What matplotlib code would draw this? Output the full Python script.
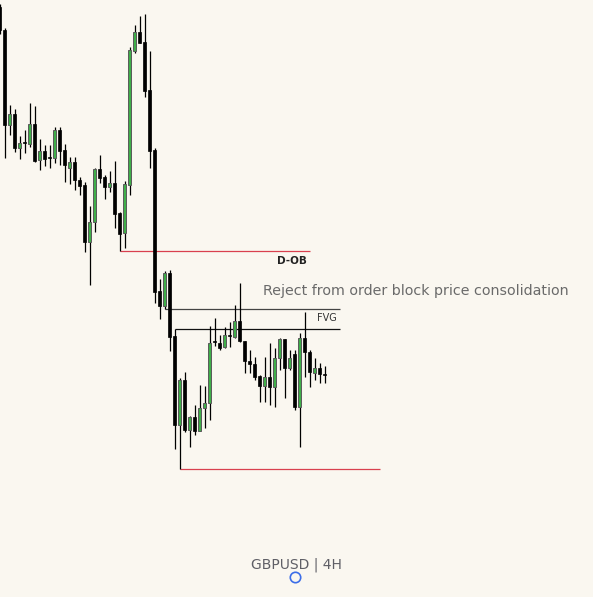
import matplotlib.pyplot as plt

# Velas GBPUSD 4H (abertura, maxima, minima, fecho)
opens = [1.2993, 1.2970, 1.2875, 1.2886, 1.2852, 1.2857, 1.2856, 1.2876, 1.2840, 1.2849,
         1.2842, 1.2842, 1.2870, 1.2850, 1.2832, 1.2838, 1.2820, 1.2815, 1.2758, 1.2778,
         1.2831, 1.2823, 1.2813, 1.2817, 1.2787, 1.2767, 1.2815, 1.2949, 1.2968, 1.2958,
         1.2910, 1.2850, 1.2709, 1.2694, 1.2727, 1.2664, 1.2575, 1.2620, 1.2570, 1.2583,
         1.2569, 1.2592, 1.2597, 1.2658, 1.2657, 1.2653, 1.2664, 1.2663, 1.2679, 1.2659,
         1.2639, 1.2636, 1.2624, 1.2614, 1.2623, 1.2613, 1.2642, 1.2661, 1.2632, 1.2646,
         1.2593, 1.2662, 1.2648, 1.2627, 1.2632, 1.2625]
highs = [1.2996, 1.2972, 1.2895, 1.2891, 1.2864, 1.2870, 1.2897, 1.2894, 1.2861, 1.2855,
         1.2855, 1.2873, 1.2873, 1.2856, 1.2843, 1.2843, 1.2823, 1.2818, 1.2794, 1.2832,
         1.2845, 1.2825, 1.2829, 1.2839, 1.2788, 1.2819, 1.2953, 1.2975, 1.2984, 1.2986,
         1.2949, 1.2852, 1.2721, 1.2729, 1.2730, 1.2671, 1.2622, 1.2628, 1.2584, 1.2595,
         1.2615, 1.2614, 1.2674, 1.2682, 1.2665, 1.2673, 1.2678, 1.2695, 1.2717, 1.2659,
         1.2650, 1.2643, 1.2625, 1.2643, 1.2657, 1.2652, 1.2662, 1.2661, 1.2650, 1.2650,
         1.2667, 1.2688, 1.2650, 1.2642, 1.2637, 1.2634]
lows = [1.2966, 1.2842, 1.2865, 1.2848, 1.2841, 1.2847, 1.2853, 1.2838, 1.2830, 1.2834,
        1.2832, 1.2837, 1.2835, 1.2818, 1.2816, 1.2810, 1.2805, 1.2748, 1.2715, 1.2768,
        1.2817, 1.2801, 1.2808, 1.2772, 1.2749, 1.2752, 1.2805, 1.2947, 1.2957, 1.2903,
        1.2832, 1.2697, 1.2681, 1.2691, 1.2649, 1.2551, 1.2531, 1.2568, 1.2553, 1.2565,
        1.2569, 1.2572, 1.2580, 1.2654, 1.2650, 1.2652, 1.2653, 1.2662, 1.2658, 1.2627,
        1.2627, 1.2620, 1.2598, 1.2598, 1.2595, 1.2593, 1.2630, 1.2602, 1.2630, 1.2590,
        1.2553, 1.2623, 1.2613, 1.2620, 1.2617, 1.2617]
closes = [1.2970, 1.2875, 1.2886, 1.2852, 1.2857, 1.2857, 1.2876, 1.2839, 1.2849, 1.2841,
          1.2842, 1.2870, 1.2849, 1.2835, 1.2838, 1.2820, 1.2814, 1.2758, 1.2778, 1.2831,
          1.2822, 1.2813, 1.2817, 1.2786, 1.2766, 1.2816, 1.2950, 1.2968, 1.2957, 1.2909,
          1.2849, 1.2708, 1.2694, 1.2727, 1.2663, 1.2575, 1.2620, 1.2570, 1.2583, 1.2569,
          1.2592, 1.2597, 1.2657, 1.2658, 1.2652, 1.2665, 1.2664, 1.2679, 1.2659, 1.2639,
          1.2636, 1.2623, 1.2614, 1.2623, 1.2613, 1.2642, 1.2661, 1.2632, 1.2642, 1.2593,
          1.2662, 1.2648, 1.2628, 1.2632, 1.2626, 1.2625]
indices = list(range(-1, len(opens) - 1))

# Niveis marcados (preco, vela inicial, vela final)
niveis_preco = [1.2749, 1.2691, 1.2671, 1.2531]
niveis_inicio = [23, 32, 34, 35]
niveis_fim = [61.1, 67.1, 67.1, 75.1]
niveis_cor = ['#d9404f', '#444444', '#111111', '#d9404f']

fundo = '#faf7f0'
verde = '#3fae49'

fig = plt.figure(figsize=(5.93, 5.97), dpi=100)
fig.patch.set_facecolor(fundo)
ax = fig.add_axes([0, 0, 1, 1])
ax.set_facecolor(fundo)

# Niveis horizontais
for p, a, b, c in zip(niveis_preco, niveis_inicio, niveis_fim, niveis_cor):
    ax.hlines(p, a, b, color=c, lw=0.9, zorder=1)

# Velas
for i, o, h, l, c in zip(indices, opens, highs, lows, closes):
    ax.vlines(i, l, h, color='black', lw=0.9, zorder=2)
    corpo = max(abs(c - o), 0.00012)
    base = min(o, c)
    if c > o:
        ax.bar(i, corpo, bottom=base, width=0.62, color=verde,
               edgecolor='#5a5a5a', linewidth=0.7, zorder=3)
    else:
        ax.bar(i, corpo, bottom=base, width=0.62, color='black',
               edgecolor='black', linewidth=0.5, zorder=3)

# Textos
ax.text(57.5, 1.2739, 'D-OB', fontsize=7.5, fontweight='bold', color='#222222',
        ha='center', va='center')
ax.text(64.5, 1.2682, 'FVG', fontsize=7, color='#333333', ha='center', va='center')
ax.text(51.7, 1.2709, 'Reject from order block price consolidation', fontsize=10.3,
        color='#6a6a6a', ha='left', va='center')

fig.text(296 / 593, 1 - 565 / 597, 'GBPUSD | 4H', fontsize=10, color='#5f5f66',
         ha='center', va='center')
ax.plot([295 / 593], [1 - 577 / 597], marker='o', markersize=7.5, mfc='none',
        mec='#3d6ee8', mew=1.2, transform=fig.transFigure, clip_on=False)

ax.set_xlim(-0.94, 117.66)
ax.set_ylim(1.2403, 1.3000)
ax.axis('off')

plt.savefig('out.png', dpi=100, facecolor=fig.get_facecolor())
